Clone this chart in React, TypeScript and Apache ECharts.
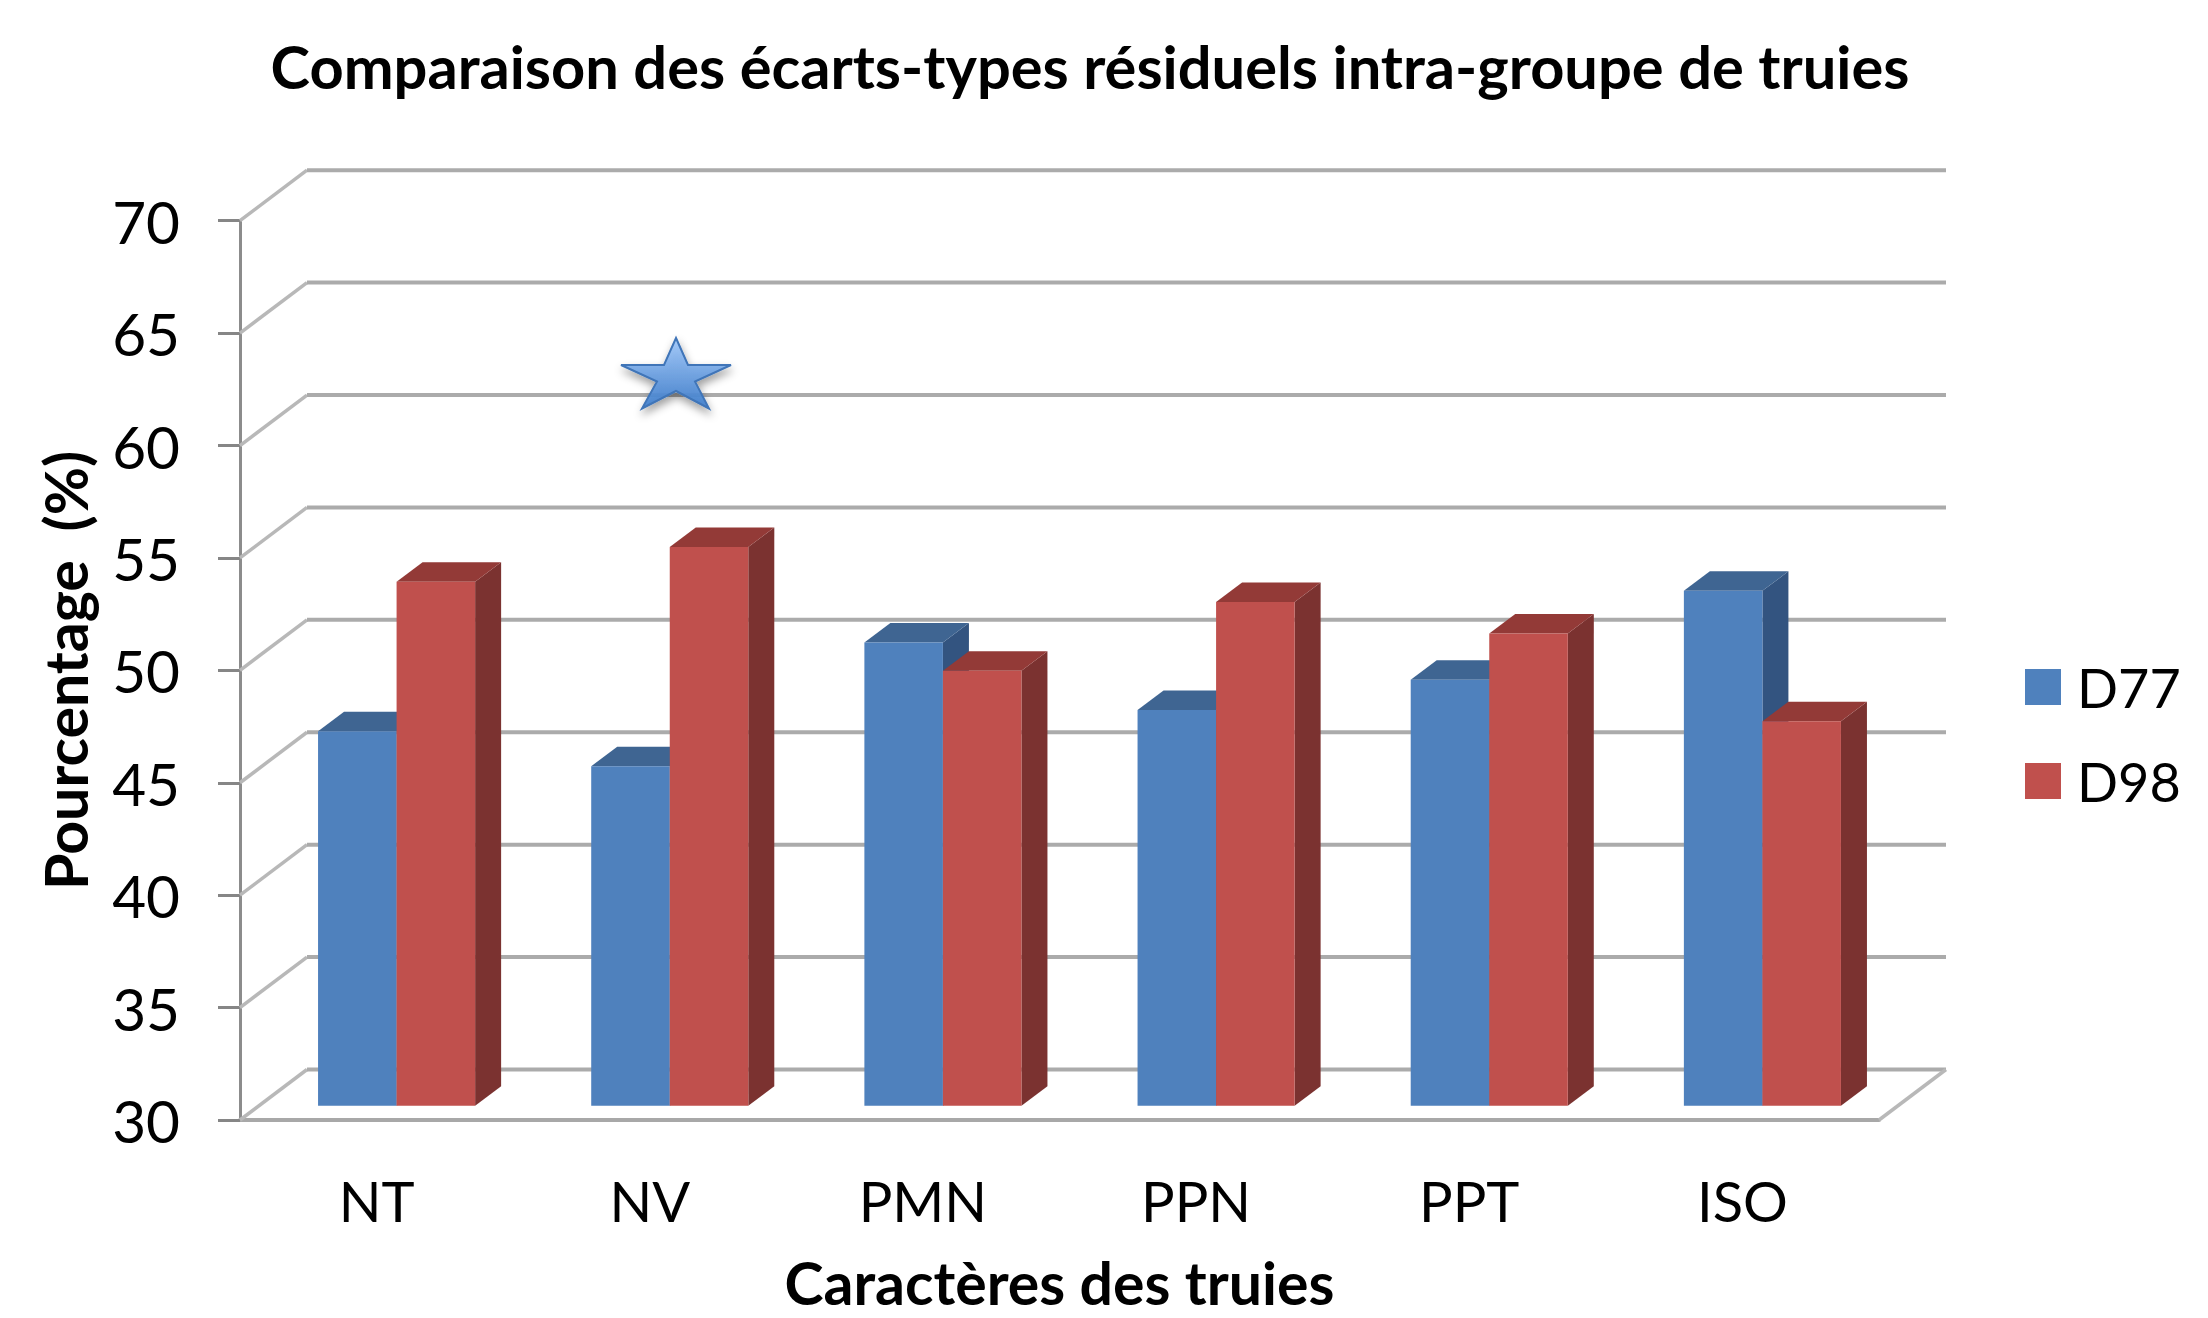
import React, { useEffect, useRef } from "react";
import * as echarts from "echarts";

const categories = ["NT", "NV", "PMN", "PPN", "PPT", "ISO"];
const d77 = [46.65, 45.1, 50.6, 47.6, 48.95, 52.9];
const d98 = [53.3, 54.85, 49.35, 52.4, 51.0, 47.1];
const tickValues = [30, 35, 40, 45, 50, 55, 60, 65, 70];
const titleText = "Comparaison des écarts-types résiduels intra-groupe de truies";
const xName = "Caractères des truies";
const yName = "Pourcentage  (%)";

const FONT = "Lato";
const WALL = { dx: 67, dy: -50.5 };
const PLANE = { dx: 20, dy: -14.3 };
const DEPTH = { dx: 26, dy: -19.5 };
const BAR_RATIO = 0.2875;

const starPoints = [
  [676, 338], [688, 365], [731, 365], [695, 381.5], [709, 408.5],
  [676, 391], [642, 408.5], [657, 381.5], [621, 365], [664, 365],
];

function barRenderer(offsetBars: number, front: string, top: string, side: string) {
  return (_params: any, api: any) => {
    const i = api.value(0);
    const v = api.value(1);
    const band = api.size([1, 0])[0];
    const w = band * BAR_RATIO;
    const center = api.coord([i, v]);
    const base = api.coord([i, 30]);
    const x0 = center[0] + PLANE.dx + offsetBars * w;
    const x1 = x0 + w;
    const yT = center[1] + PLANE.dy;
    const yB = base[1] + PLANE.dy;
    return {
      type: "group",
      children: [
        { type: "polygon", shape: { points: [[x1, yT], [x1 + DEPTH.dx, yT + DEPTH.dy], [x1 + DEPTH.dx, yB + DEPTH.dy], [x1, yB]] }, style: { fill: side } },
        { type: "polygon", shape: { points: [[x0, yT], [x0 + DEPTH.dx, yT + DEPTH.dy], [x1 + DEPTH.dx, yT + DEPTH.dy], [x1, yT]] }, style: { fill: top } },
        { type: "rect", shape: { x: x0, y: yT, width: w, height: yB - yT }, style: { fill: front } },
      ],
    };
  };
}

function wallRenderer(params: any, api: any) {
  const v = api.value(1);
  const cs = params.coordSys;
  const y = api.coord([0, v])[1];
  const xl = cs.x;
  const xr = cs.x + cs.width;
  const children: any[] = [
    {
      type: "polyline",
      shape: { points: [[xl, y], [xl + WALL.dx, y + WALL.dy]] },
      style: { stroke: "#B8B8B8", lineWidth: 3.5, fill: "none" },
    },
    {
      type: "polyline",
      shape: { points: [[xl + WALL.dx, y + WALL.dy], [xr + WALL.dx, y + WALL.dy]] },
      style: { stroke: "#ABABAB", lineWidth: 4, fill: "none" },
    },
  ];
  if (v === 30) {
    children.push({
      type: "polyline",
      shape: { points: [[xr, y], [xr + WALL.dx, y + WALL.dy]] },
      style: { stroke: "#B8B8B8", lineWidth: 3.5, fill: "none" },
    });
  }
  return { type: "group", children };
}

export default function App() {
  const ref = useRef<HTMLDivElement>(null);
  useEffect(() => {
    document.body.style.margin = "0";
    const chart = echarts.init(ref.current!, undefined, { renderer: "svg" });
    chart.setOption({
      animation: false,
      backgroundColor: "#ffffff",
      textStyle: { fontFamily: FONT, color: "#000" },
      title: {
        text: titleText,
        left: 1085,
        top: 31,
        textAlign: "center",
        textStyle: { fontFamily: FONT, fontWeight: "bold", fontSize: 59.6, color: "#000" },
      },
      legend: {
        data: ["D77", "D98"],
        orient: "vertical",
        left: 2025,
        top: 660,
        padding: 0,
        itemWidth: 36,
        itemHeight: 36,
        itemGap: 40,
        icon: "rect",
        textStyle: { fontFamily: FONT, fontSize: 54, color: "#000", padding: [0, 0, 0, 11] },
      },
      grid: { left: 240, top: 220.7, width: 1639, height: 899.3, containLabel: false, outerBoundsMode: "none" },
      xAxis: {
        type: "category",
        data: categories,
        name: xName,
        nameLocation: "middle",
        nameGap: 133,
        nameTextStyle: { fontFamily: FONT, fontWeight: "bold", fontSize: 59, color: "#000" },
        axisTick: { show: false },
        axisLine: { lineStyle: { color: "#A8A8A8", width: 4 } },
        axisLabel: { fontFamily: FONT, fontSize: 56, color: "#000", margin: 52 },
      },
      yAxis: {
        type: "value",
        min: 30,
        max: 70,
        interval: 5,
        name: yName,
        nameLocation: "middle",
        nameGap: 145,
        nameRotate: 90,
        nameTextStyle: { fontFamily: FONT, fontWeight: "bold", fontSize: 59, color: "#000" },
        splitLine: { show: false },
        axisLine: { show: true, lineStyle: { color: "#8C8C8C", width: 3 } },
        axisTick: { show: true, length: 22, lineStyle: { color: "#868686", width: 3 } },
        axisLabel: { fontFamily: FONT, fontSize: 58.5, color: "#000", margin: 60 },
      },
      series: [
        {
          type: "custom",
          name: "walls",
          silent: true,
          z: 1,
          renderItem: wallRenderer,
          data: tickValues.map((v) => [0, v]),
          encode: { x: 0, y: 1 },
        },
        {
          type: "custom",
          name: "D77",
          z: 3,
          itemStyle: { color: "#4F81BD" },
          renderItem: barRenderer(-1, "#4F81BD", "#3F6592", "#335480"),
          data: d77.map((v, i) => [i, v]),
          encode: { x: 0, y: 1 },
        },
        {
          type: "custom",
          name: "D98",
          z: 4,
          itemStyle: { color: "#C0504D" },
          renderItem: barRenderer(0, "#C0504D", "#933A37", "#7B3230"),
          data: d98.map((v, i) => [i, v]),
          encode: { x: 0, y: 1 },
        },
      ],
      graphic: [
        {
          type: "polygon",
          z: 10,
          shape: { points: starPoints },
          style: {
            fill: new echarts.graphic.LinearGradient(0, 0, 0, 1, [
              { offset: 0, color: "rgba(160,200,250,0.92)" },
              { offset: 1, color: "rgba(60,124,204,0.92)" },
            ]),
            stroke: "#3F75B8",
            lineWidth: 2,
            shadowBlur: 8,
            shadowOffsetY: 5,
            shadowOffsetX: 1,
            shadowColor: "rgba(0,0,0,0.4)",
          },
        },
      ],
    });
    return () => chart.dispose();
  }, []);
  return <div ref={ref} style={{ position: "absolute", left: 0, top: 0, width: 2208, height: 1318 }} />;
}
